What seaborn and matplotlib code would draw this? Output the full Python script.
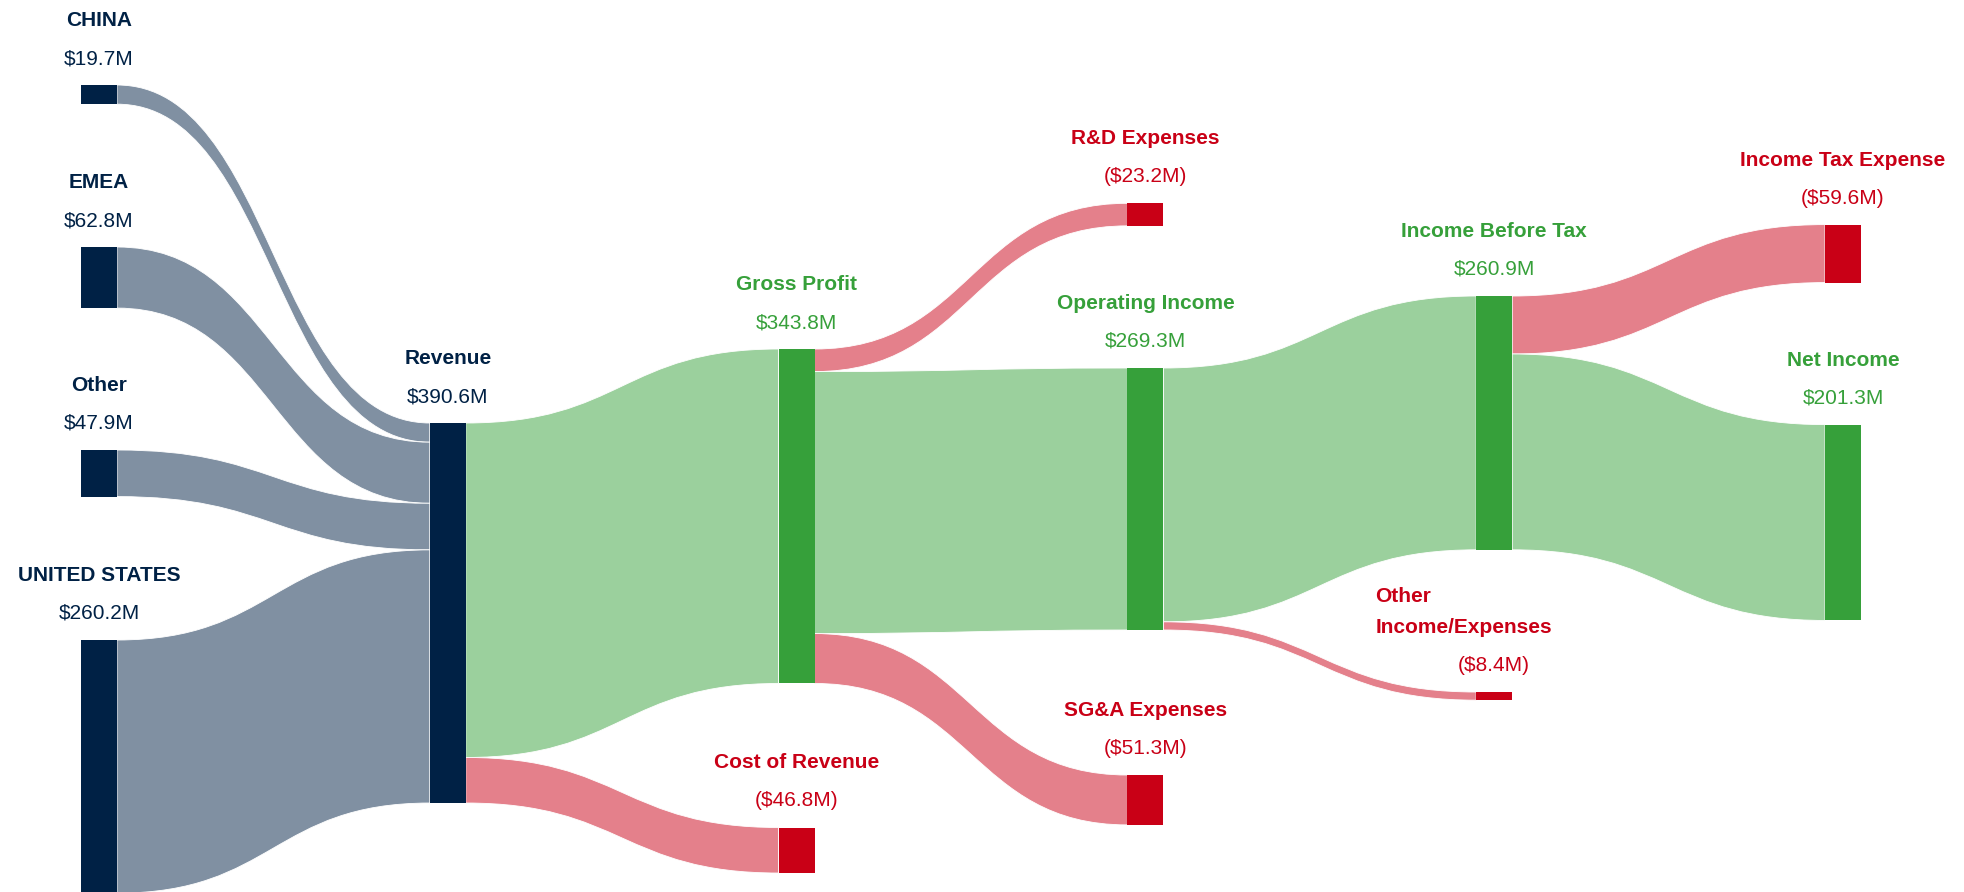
import numpy as np
import matplotlib
matplotlib.use("Agg")
import matplotlib.pyplot as plt
from matplotlib.path import Path
from matplotlib.patches import PathPatch, Rectangle
import matplotlib.colors as mcolors
import seaborn as sns

# ---------------- data ----------------
node_names = ["CHINA", "EMEA", "Other", "UNITED STATES", "Revenue",
              "Gross Profit", "Cost of Revenue", "R&D Expenses",
              "Operating Income", "SG&A Expenses", "Other\nIncome/Expenses",
              "Income Before Tax", "Income Tax Expense", "Net Income"]
node_values = [19.7, 62.8, 47.9, 260.2, 390.6,
               343.8, 46.8, 23.2,
               269.3, 51.3, 8.4,
               260.9, 59.6, 201.3]
node_kinds = ["base", "base", "base", "base", "base",
              "profit", "expense", "expense",
              "profit", "expense", "expense",
              "profit", "expense", "profit"]

link_source = ["CHINA", "EMEA", "Other", "UNITED STATES",
               "Revenue", "Revenue",
               "Gross Profit", "Gross Profit", "Gross Profit",
               "Operating Income", "Operating Income",
               "Income Before Tax", "Income Before Tax"]
link_target = ["Revenue", "Revenue", "Revenue", "Revenue",
               "Gross Profit", "Cost of Revenue",
               "R&D Expenses", "Operating Income", "SG&A Expenses",
               "Income Before Tax", "Other\nIncome/Expenses",
               "Income Tax Expense", "Net Income"]
link_values = [19.7, 62.8, 47.9, 260.2,
               343.8, 46.8,
               23.2, 269.3, 51.3,
               260.9, 8.4,
               59.6, 201.3]

# ---------------- layout (pixel space) ----------------
W, H = 1964, 892
node_column = [0, 0, 0, 0, 1, 2, 2, 3, 3, 3, 4, 4, 5, 5]
node_top = [85, 247, 450, 640, 423, 349, 827.5, 203.3, 368, 775, 692, 296, 224.6, 424.6]
col_x0, col_step, node_w = 81, 348.8, 36
px_per_m = 0.9729
value_gap, label_gap, line_gap = 21, 38, 31
left_aligned_label_x = {"Other\nIncome/Expenses": 1375.5}

kind_color = {"base": "#002145", "profit": "#36a03a", "expense": "#c90016"}

sns.set_style("white")
plt.rcParams["font.family"] = ["Liberation Sans", "DejaVu Sans"]

fig = plt.figure(figsize=(W / 100, H / 100), dpi=100)
ax = fig.add_axes([0, 0, 1, 1])
ax.set_xlim(0, W)
ax.set_ylim(H, 0)
ax.axis("off")

idx = {n: i for i, n in enumerate(node_names)}
nx = [col_x0 + c * col_step for c in node_column]

def lighten(c, a=0.5):
    r, g, b = mcolors.to_rgb(c)
    return (1 - a + a * r, 1 - a + a * g, 1 - a + a * b)

# links
out_off = {n: 0.0 for n in node_names}
in_off = {n: 0.0 for n in node_names}
for s, t, v in zip(link_source, link_target, link_values):
    si, ti = idx[s], idx[t]
    h = v * px_per_m
    x0 = nx[si] + node_w
    x1 = nx[ti]
    y0 = node_top[si] + out_off[s]
    y1 = node_top[ti] + in_off[t]
    out_off[s] += h
    in_off[t] += h
    xm = (x0 + x1) / 2
    verts = [(x0, y0), (xm, y0), (xm, y1), (x1, y1),
             (x1, y1 + h), (xm, y1 + h), (xm, y0 + h), (x0, y0 + h), (x0, y0)]
    codes = [Path.MOVETO, Path.CURVE4, Path.CURVE4, Path.CURVE4,
             Path.LINETO, Path.CURVE4, Path.CURVE4, Path.CURVE4, Path.CLOSEPOLY]
    col = lighten(kind_color[node_kinds[ti]])
    ax.add_patch(PathPatch(Path(verts, codes), facecolor=col, edgecolor="white",
                           linewidth=0.6, zorder=1))

# nodes and labels
for i, name in enumerate(node_names):
    v = node_values[i]
    col = kind_color[node_kinds[i]]
    h = v * px_per_m
    ax.add_patch(Rectangle((nx[i], node_top[i]), node_w, h, facecolor=col,
                           edgecolor="none", zorder=3))
    cx = nx[i] + node_w / 2
    vtxt = f"(${v:.1f}M)" if node_kinds[i] == "expense" else f"${v:.1f}M"
    vb = node_top[i] - value_gap
    ax.text(cx, vb, vtxt, ha="center", va="baseline", fontsize=15, color=col)
    lines = name.split("\n")
    lb = vb - label_gap
    for k, line in enumerate(reversed(lines)):
        y = lb - k * line_gap
        if name in left_aligned_label_x:
            ax.text(left_aligned_label_x[name], y, line, ha="left", va="baseline",
                    fontsize=15, fontweight="bold", color=col)
        else:
            ax.text(cx, y, line, ha="center", va="baseline", fontsize=15,
                    fontweight="bold", color=col)

fig.savefig("out.png", dpi=100, facecolor="white")
